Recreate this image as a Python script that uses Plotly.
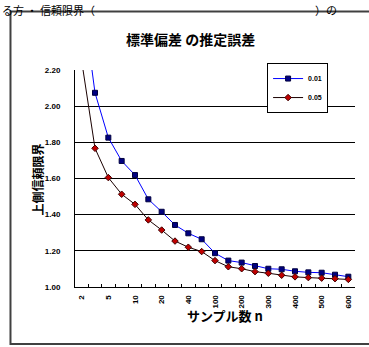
import plotly.graph_objects as go

# ---- data ----
sample_sizes = ["2", "3", "5", "7", "10", "15", "20", "30", "40", "50", "100",
                "150", "200", "250", "300", "350", "400", "450", "500", "550", "600"]
shown_labels = ["2", "", "5", "", "10", "", "20", "", "40", "", "100",
                "", "200", "", "300", "", "400", "", "500", "", "600"]
series_001 = [2.63, 2.074, 1.826, 1.697, 1.619, 1.485, 1.416, 1.343, 1.297, 1.264, 1.187,
              1.146, 1.135, 1.116, 1.101, 1.098, 1.087, 1.081, 1.079, 1.068, 1.057]
series_005 = [2.25, 1.767, 1.605, 1.513, 1.457, 1.371, 1.315, 1.254, 1.220, 1.196, 1.146,
              1.112, 1.101, 1.085, 1.076, 1.065, 1.056, 1.052, 1.049, 1.046, 1.042]
y_ticks = [1.00, 1.20, 1.40, 1.60, 1.80, 2.00, 2.20]
title_text = "標準偏差 の推定誤差"
x_title = "サンプル数 n"
y_title = "上側信頼限界"
page_text = "る方 ・ 信頼限界（" + "\u3000" * 20 + "）の"

JP = "Noto Sans CJK JP"
NUM = "Liberation Sans"

fig = go.Figure()
fig.add_trace(go.Scatter(
    x=sample_sizes, y=series_001, name="0.01", mode="lines+markers",
    line=dict(color="#0000ff", width=1),
    marker=dict(symbol="square", size=5, color="#000080", line=dict(color="#000040", width=1)),
))
fig.add_trace(go.Scatter(
    x=sample_sizes, y=series_005, name="0.05", mode="lines+markers",
    line=dict(color="#1a0000", width=1),
    marker=dict(symbol="diamond", size=5, color="#c00000", line=dict(color="#400000", width=1)),
))

fig.update_layout(
    width=369, height=347,
    margin=dict(l=75, r=14, t=70, b=60),
    paper_bgcolor="white", plot_bgcolor="white",
    showlegend=True,
    legend=dict(x=0.686, y=1.032, xanchor="left", yanchor="top",
                bgcolor="white", bordercolor="black", borderwidth=1,
                font=dict(family=NUM, size=7, color="black", weight="bold"),
                tracegroupgap=0, itemwidth=30),
    xaxis=dict(type="category", categoryorder="array", categoryarray=sample_sizes,
               tickmode="array", tickvals=sample_sizes, ticktext=shown_labels,
               tickangle=-90, tickson="boundaries", ticks="inside", ticklen=3,
               tickcolor="black", showgrid=False, showline=True, linecolor="black",
               linewidth=1, range=[-0.5, 20.5], ticklabelstandoff=4,
               tickfont=dict(family=NUM, size=8, color="black", weight="bold"),
               zeroline=False),
    yaxis=dict(range=[1.0, 2.2], tickmode="array", tickvals=y_ticks,
               ticktext=[f"{v:.2f}" for v in y_ticks],
               showgrid=True, gridcolor="black", gridwidth=1,
               showline=True, linecolor="black", linewidth=1,
               ticks="", ticklabelstandoff=12,
               tickfont=dict(family=NUM, size=8, color="black", weight="bold"),
               zeroline=False),
)

fig.add_annotation(text=title_text, xref="paper", yref="paper", x=0.414, y=1.198,
                   showarrow=False, font=dict(family=JP, size=14, color="black", weight="bold"))
fig.add_annotation(text=x_title, xref="paper", yref="paper", x=0.536, y=-0.184,
                   showarrow=False, font=dict(family=JP, size=13, color="black", weight="bold"))
fig.add_annotation(text=y_title, xref="paper", yref="paper", x=-0.1714, y=0.493,
                   textangle=-90, showarrow=False,
                   font=dict(family=JP, size=12, color="black", weight="bold"))
fig.add_annotation(text=page_text, xref="paper", yref="paper", x=-0.268, y=1.3226,
                   xanchor="left", yanchor="top", showarrow=False,
                   font=dict(family=JP, size=11, color="black"))

fig.add_shape(type="rect", xref="paper", yref="paper",
              x0=-0.2304, x1=1.1, y0=-0.2627, y1=1.2696,
              line=dict(color="#404040", width=2), fillcolor="rgba(0,0,0,0)", layer="below")

fig.write_html("out.html", config={"displayModeBar": False},
               post_script="document.body.style.margin='0';")
